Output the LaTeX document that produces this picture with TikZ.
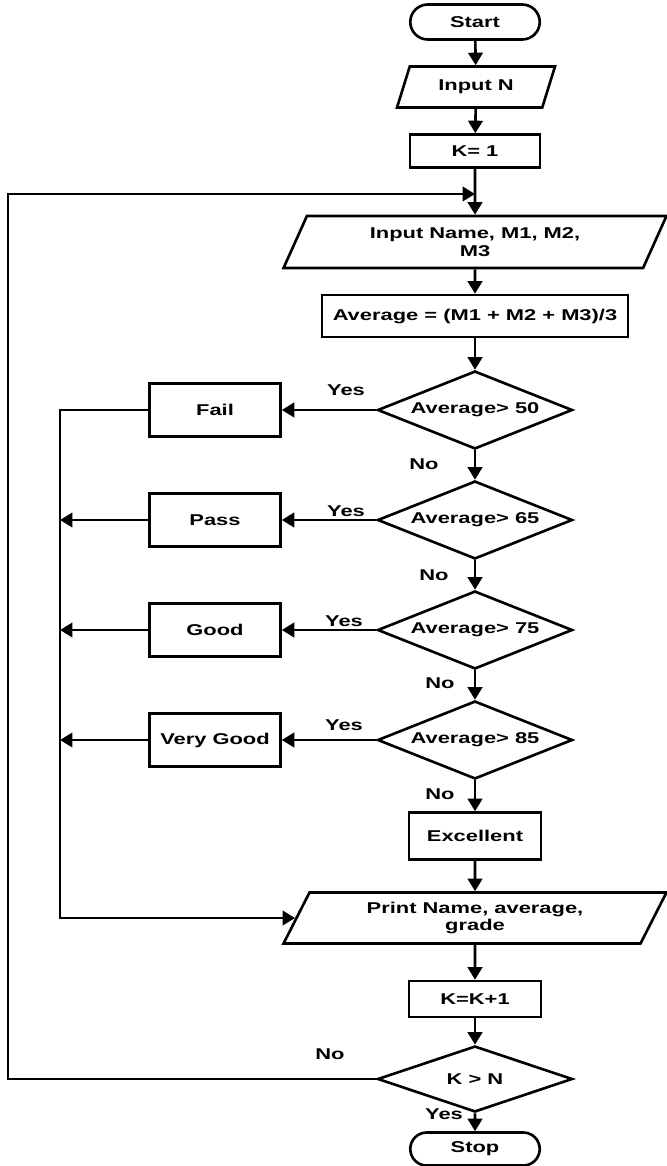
\documentclass[tikz,border=0pt]{standalone}
\usepackage{fontspec}
\setmainfont{Liberation Sans}[FakeStretch=1.4]
\usetikzlibrary{shapes.geometric,shapes.misc,arrows.meta}
\tikzset{
  >={Triangle[length=2.5mm,width=2.9mm]},
  base/.style={draw, inner sep=1pt},
  term/.style={base, rounded rectangle, minimum width=2.66cm, minimum height=0.7cm},
  io/.style={base, trapezium, trapezium left angle=54, trapezium right angle=126,
    trapezium stretches body, align=center},
  proc/.style={base, rectangle, minimum width=2.64cm},
  grade/.style={base, rectangle, minimum width=2.62cm, minimum height=1.06cm},
  dec/.style={base, diamond, aspect=2.5, inner sep=0pt, minimum width=3.9cm, minimum height=1.56cm}
}
\begin{document}
\begin{tikzpicture}[x=0.02cm, y=-0.02cm, line width=1.5pt,
    font=\fontsize{8.9}{10}\selectfont\bfseries]
  \useasboundingbox (0,0) rectangle (666,1166);
  \node[term] (1) at (475,22) {Start};
  \node[io, minimum width=3.16cm, minimum height=0.82cm] (2) at (476,87) {Input N};
  \node[proc, minimum width=2.6cm, minimum height=0.66cm] (3) at (475,151) {K= 1};
  \coordinate (j) at (475,194);
  \node[io, minimum width=7.66cm, minimum height=1.04cm] (4) at (475,242) {Input Name, M1, M2,\\ M3};
  \node[proc, minimum width=6.12cm, minimum height=0.84cm] (5) at (475,316) {Average = (M1 + M2 + M3)/3};
  \node[dec] (6) at (475,410) {Average> 50};
  \node[grade] (7) at (215,410) {Fail};
  \node[dec] (8) at (475,520) {Average> 65};
  \node[grade] (9) at (215,520) {Pass};
  \node[dec] (10) at (475,630) {Average> 75};
  \node[grade] (11) at (215,630) {Good};
  \node[dec] (12) at (475,740) {Average> 85};
  \node[grade] (13) at (215,740) {Very Good};
  \node[proc, minimum height=0.94cm] (14) at (475,836) {Excellent};
  \node[io, minimum width=7.66cm, minimum height=1.02cm] (15) at (475,918) {Print Name, average,\\ grade};
  \node[proc, minimum height=0.72cm] (16) at (475,999) {K=K+1};
  \node[dec, minimum height=1.32cm] (17) at (475,1079) {K > N};
  \node[term, minimum height=0.66cm] (18) at (475,1149) {Stop};
  % bus and loop corners
  \coordinate (b1) at (60,410);
  \coordinate (b2) at (60,520);
  \coordinate (b3) at (60,630);
  \coordinate (b4) at (60,740);
  \coordinate (l1) at (8,1079);
  % labels
  \node (y1) at (346,390) {Yes};
  \node (y2) at (346,511) {Yes};
  \node (y3) at (344,621) {Yes};
  \node (y4) at (344,725) {Yes};
  \node (y5) at (444,1114) {Yes};
  \node (n1) at (424,464) {No};
  \node (n2) at (434,575) {No};
  \node (n3) at (440,683) {No};
  \node (n4) at (440,794) {No};
  \node (n5) at (330,1054) {No};
  \draw[->] (1) edge (2);
  \draw[->] (2) edge (3);
  \draw[->] (3) edge (4);
  \draw[->] (4) edge (5);
  \draw[->] (5) edge (6);
  \draw[->] (6) edge (7);
  \draw[->] (6) edge (8);
  \draw[->] (8) edge (9);
  \draw[->] (8) edge (10);
  \draw[->] (10) edge (11);
  \draw[->] (10) edge (12);
  \draw[->] (12) edge (13);
  \draw[->] (12) edge (14);
  \draw[->] (14) edge (15);
  \draw[->] (15) edge (16);
  \draw[->] (16) edge (17);
  \draw[->] (17) edge (18);
  \draw[->] (7) -- (b1) |- (15);
  \draw[->] (9) -- (b2);
  \draw[->] (11) -- (b3);
  \draw[->] (13) -- (b4);
  \draw[->] (17) -- (l1) |- (j);
\end{tikzpicture}
\end{document}
